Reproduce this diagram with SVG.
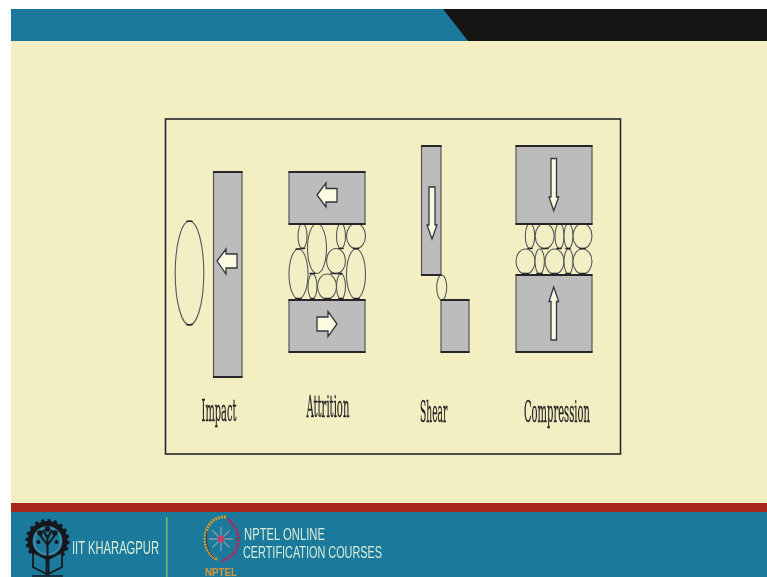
<svg xmlns="http://www.w3.org/2000/svg" width="767" height="577" viewBox="0 0 767 577">
<defs>
<filter id="soft" x="-5%" y="-5%" width="110%" height="110%"><feGaussianBlur stdDeviation="0.45"/></filter>
<filter id="softer" x="-5%" y="-5%" width="110%" height="110%"><feGaussianBlur stdDeviation="0.6"/></filter>
</defs>
<style>
.block{fill:#bcbcbc;stroke:#55585a;stroke-width:1.2}
.edge{stroke:#26282a;stroke-width:2;fill:none}
.arrow{fill:#fbfbe2;stroke:#33363a;stroke-width:1.3;stroke-linejoin:miter}
.p{fill:#f3efc4;stroke:#55585a;stroke-width:1.1}
.tick{stroke:#26282a;stroke-width:1.6;stroke-linecap:round;fill:none}
.lab{font-family:"DejaVu Serif","Liberation Serif",serif;fill:#222;stroke:#222;stroke-width:.3;font-size:29px}
.foot{font-family:"Liberation Sans","Open Sans",sans-serif;fill:#d8ecd8;font-size:15.5px}
</style>
<rect width="767" height="577" fill="#ffffff"/>
<g id="slide">
<rect x="11" y="9" width="756" height="32" fill="#1b7a9c"/>
<polygon points="443,9 767,9 767,41 468,41" fill="#151513"/>
<rect x="11" y="41" width="756" height="462" fill="#f3efc3"/>
<rect x="11" y="503" width="756" height="9" fill="#a9261b"/>
<rect x="11" y="512" width="756" height="65" fill="#1b7a9c"/>
<rect x="166" y="517" width="1.4" height="60" fill="#7cc06a"/>
</g>
<g filter="url(#soft)">
<rect id="frame" x="165.5" y="119" width="455" height="335" fill="none" stroke="#26282a" stroke-width="1.6"/>

<g id="impact">
<ellipse class="p" cx="189.500" cy="273" rx="14.300" ry="52"/>
<path class="tick" d="M187 221.300H192M187 324.700H192"/>
<rect class="block" x="213.500" y="172" width="28.500" height="205"/><path class="edge" d="M213 172H242.500M213 377H242.500"/>
<polygon class="arrow" points="217,261 226,249 226,254 237,254 237,268 226,268 226,274"/>
<text class="lab" transform="translate(201.500 420.500) scale(.36 1)" textLength="97" lengthAdjust="spacingAndGlyphs">Impact</text>
</g>

<g id="attrition">
<ellipse class="p" cx="302.500" cy="236" rx="4.500" ry="12.500"/>
<ellipse class="p" cx="317" cy="248.500" rx="9.500" ry="25"/>
<ellipse class="p" cx="341" cy="236" rx="4.500" ry="12.500"/>
<ellipse class="p" cx="356" cy="236" rx="9.500" ry="12.500"/>
<ellipse class="p" cx="298.500" cy="274" rx="9.500" ry="25"/>
<ellipse class="p" cx="336" cy="261" rx="9.500" ry="12.500"/>
<ellipse class="p" cx="356" cy="274" rx="9.500" ry="25"/>
<ellipse class="p" cx="312.500" cy="286.500" rx="4.500" ry="12.500"/>
<ellipse class="p" cx="327" cy="286.500" rx="9.500" ry="12.500"/>
<ellipse class="p" cx="341" cy="286.500" rx="4.500" ry="12.500"/>
<path class="tick" d="M300.500 248.500H304.500M353.500 248.500H358.500M339 248.500H343M296 249H300M310 273.500H315M331 273.500H342M296 298.500H301M311 298.500H314M325 298.500H330M339 298.500H343M354 298.500H359"/>
<rect class="block" x="289" y="172" width="76" height="52"/><path class="edge" d="M288.500 172H365.500M288.500 224H365.500"/>
<rect class="block" x="289" y="300" width="76" height="52"/><path class="edge" d="M288.500 300H365.500M288.500 352H365.500"/>
<polygon class="arrow" points="317,195 326,183 326,188.500 337,188.500 337,202 326,202 326,207"/>
<polygon class="arrow" points="337,324 328,311.500 328,317 317,317 317,331 328,331 328,336.500"/>
<text class="lab" transform="translate(306.500 416.500) scale(.36 1)" textLength="119" lengthAdjust="spacingAndGlyphs">Attrition</text>
</g>

<g id="shear">
<ellipse class="p" cx="441.700" cy="287.500" rx="5" ry="12.500"/>
<rect class="block" x="421.500" y="146" width="19.500" height="129"/><path class="edge" d="M421 146H441.500M421 275H441.500"/>
<rect class="block" x="441" y="300" width="28" height="52"/><path class="edge" d="M440.500 300H469.500M440.500 352H469.500"/>
<polygon class="arrow" points="432,239 427,225 429,225 429,187 435,187 435,225 437,225"/>
<text class="lab" transform="translate(420 421.500) scale(.36 1)" textLength="76" lengthAdjust="spacingAndGlyphs">Shear</text>
</g>

<g id="compression">
<ellipse class="p" cx="530" cy="236" rx="4.700" ry="12.500"/>
<ellipse class="p" cx="544.700" cy="236" rx="9.500" ry="12.500"/>
<ellipse class="p" cx="559.500" cy="236" rx="4.500" ry="12.500"/>
<ellipse class="p" cx="568.500" cy="236" rx="4.500" ry="12.500"/>
<ellipse class="p" cx="582.500" cy="236" rx="9.500" ry="12.500"/>
<ellipse class="p" cx="525.500" cy="261.500" rx="9.500" ry="12.500"/>
<ellipse class="p" cx="539.700" cy="261.500" rx="4.700" ry="12.500"/>
<ellipse class="p" cx="554.500" cy="261.500" rx="9.500" ry="12.500"/>
<ellipse class="p" cx="568.500" cy="261.500" rx="4.500" ry="12.500"/>
<ellipse class="p" cx="582.500" cy="261.500" rx="9.500" ry="12.500"/>
<path class="tick" d="M528 248.500H532M542 248.500H548M557 248.500H561M566 248.500H570M580 248.500H585M523 273.500H528M537 273.500H542M552 273.500H557M566 273.500H570M580 273.500H585"/>
<rect class="block" x="516" y="146" width="76" height="78"/><path class="edge" d="M515.500 146H592.500M515.500 224H592.500"/>
<rect class="block" x="516" y="275" width="76" height="77"/><path class="edge" d="M515.500 275H592.500M515.500 352H592.500"/>
<polygon class="arrow" points="553.700,210.700 549,197 551,197 551,158.500 556.500,158.500 556.500,197 558.700,197"/>
<polygon class="arrow" points="553.700,287 549,301.500 551,301.500 551,340 556.500,340 556.500,301.500 558.700,301.500"/>
<text class="lab" transform="translate(524 421.500) scale(.36 1)" textLength="183" lengthAdjust="spacingAndGlyphs">Compression</text>
</g>
</g>

<g filter="url(#softer)">
<g id="iit-logo">
<circle cx="47.500" cy="541" r="17.500" fill="none" stroke="#14181c" stroke-width="5"/>
<circle cx="47.500" cy="541" r="20.500" fill="none" stroke="#14181c" stroke-width="3" stroke-dasharray="3.200 3.200"/>
<circle cx="47.500" cy="541" r="13.500" fill="none" stroke="#5f9cb4" stroke-width="1"/>
<path d="M47.500 556V535M47.500 545L40 535M47.500 545L55 535M47.500 538L43 530M47.500 538L52 530" fill="none" stroke="#14181c" stroke-width="2"/>
<circle cx="47.500" cy="529" r="2.800" fill="#14181c"/><circle cx="40" cy="533" r="2.800" fill="#14181c"/><circle cx="55" cy="533" r="2.800" fill="#14181c"/><circle cx="38.500" cy="542" r="2" fill="#14181c"/><circle cx="56.500" cy="542" r="2" fill="#14181c"/>
<path d="M33 552L46.500 559V574L33 567ZM62 552L48.500 559V574L62 567Z" fill="#1b7a9c" stroke="#14181c" stroke-width="1.800"/>
<path d="M32 576H63" stroke="#14181c" stroke-width="1.500"/>
</g>
<text id="iit-name" class="foot" x="72" y="554.300" textLength="87" lengthAdjust="spacingAndGlyphs" style="font-size:18px">IIT KHARAGPUR</text>

<g id="nptel-logo">
<path d="M226 517C212 516 205 528 205 539C205 549 210 556 218 560" fill="none" stroke="#d49a2e" stroke-width="3" stroke-dasharray="2 1"/>
<path d="M207 531C205 541 207 551 215 558" fill="none" stroke="#2a3a46" stroke-width="1"/>
<path d="M228 519C236 526 239 534 238 543C237 552 231 558 222 561" fill="none" stroke="#b8245c" stroke-width="3" stroke-dasharray="2 1"/>
<path d="M221 527V551M209 539H233M212.500 530.500L229.500 547.500M229.500 530.500L212.500 547.500" stroke="#7fa0ac" stroke-width="1.300" fill="none"/>
<circle cx="221" cy="539" r="3.500" fill="#c23a6a"/>
</g>
<text id="nptel-mark" x="205" y="576" textLength="32" lengthAdjust="spacingAndGlyphs" style="font-family:'Liberation Sans',sans-serif;font-weight:700;font-size:10px;fill:#d9973a">NPTEL</text>
<text id="nptel-line1" class="foot" transform="translate(244 539.500) scale(1 1.08)" textLength="81" lengthAdjust="spacingAndGlyphs">NPTEL ONLINE</text>
<text id="nptel-line2" class="foot" transform="translate(243 557.500) scale(1 1.08)" textLength="139" lengthAdjust="spacingAndGlyphs">CERTIFICATION COURSES</text>
</g>
</svg>
